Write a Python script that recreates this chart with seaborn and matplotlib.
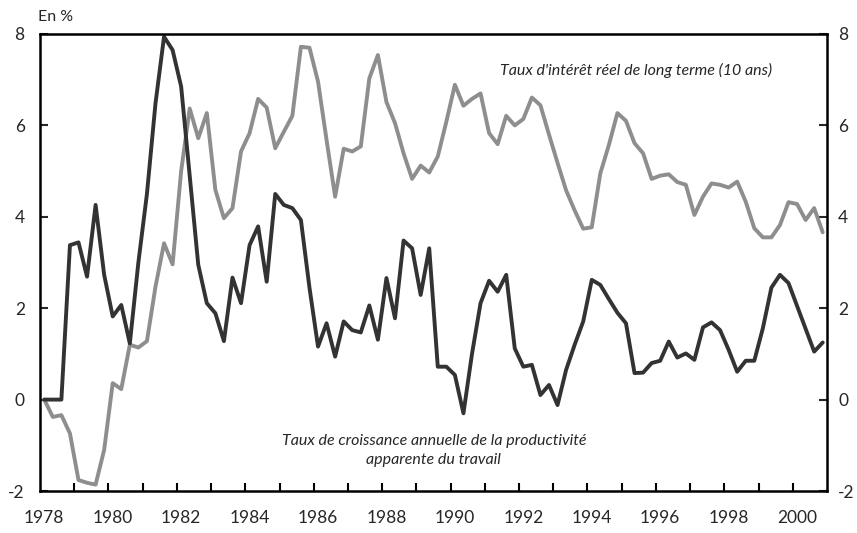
import numpy as np
import pandas as pd
import matplotlib
matplotlib.use("Agg")
import matplotlib.pyplot as plt
from matplotlib.transforms import ScaledTranslation
import seaborn as sns

# Quarterly data 1978Q1 - 2000Q4
quarters = pd.period_range("1978Q1", "2000Q4", freq="Q")

productivite = [
    0.0, 0.0, 0.0, 3.38, 3.44, 2.69, 4.26, 2.73, 1.82, 2.07,
    1.23, 3.0, 4.5, 6.48, 7.94, 7.65, 6.85, 4.9, 2.95, 2.11,
    1.89, 1.28, 2.67, 2.11, 3.38, 3.79, 2.58, 4.50, 4.26, 4.19,
    3.93, 2.45, 1.16, 1.67, 0.94, 1.71, 1.52, 1.47, 2.06, 1.31,
    2.66, 1.78, 3.48, 3.31, 2.29, 3.31, 0.72, 0.72, 0.54, -0.30,
    1.0, 2.11, 2.60, 2.36, 2.73, 1.12, 0.72, 0.76, 0.10, 0.32,
    -0.12, 0.65, 1.20, 1.71, 2.62, 2.51, 2.2, 1.9, 1.67, 0.58,
    0.59, 0.80, 0.85, 1.27, 0.92, 1.01, 0.87, 1.58, 1.69, 1.52,
    1.09, 0.61, 0.85, 0.85, 1.56, 2.45, 2.73, 2.55, 2.05, 1.55,
    1.05, 1.25,
]

taux_reel = [
    0.0, -0.38, -0.34, -0.74, -1.76, -1.82, -1.86, -1.10, 0.36, 0.23,
    1.20, 1.14, 1.28, 2.47, 3.42, 2.96, 5.0, 6.37, 5.72, 6.27,
    4.59, 3.97, 4.19, 5.43, 5.83, 6.58, 6.39, 5.50, 5.86, 6.21,
    7.72, 7.70, 6.96, 5.68, 4.44, 5.49, 5.43, 5.54, 7.03, 7.54,
    6.51, 6.05, 5.39, 4.83, 5.12, 4.97, 5.32, 6.08, 6.89, 6.43,
    6.58, 6.70, 5.83, 5.59, 6.21, 6.00, 6.14, 6.61, 6.44, 5.80,
    5.18, 4.58, 4.14, 3.74, 3.77, 4.95, 5.57, 6.27, 6.10, 5.61,
    5.39, 4.83, 4.90, 4.93, 4.76, 4.70, 4.04, 4.44, 4.73, 4.70,
    4.64, 4.77, 4.33, 3.75, 3.55, 3.55, 3.82, 4.32, 4.28, 3.93,
    4.19, 3.66,
]

year_labels = list(range(1978, 2001, 2))
y_ticks = [-2, 0, 2, 4, 6, 8]

label_taux = "Taux d'intérêt réel de long terme (10 ans)"
label_prod = "Taux de croissance annuelle de la productivité\napparente du travail"

# ---------------------------------------------------------------
sns.set_style("white")
plt.rcParams["font.family"] = ["Lato", "DejaVu Sans"]
plt.rcParams["axes.unicode_minus"] = False

t = np.array([q.year + (q.quarter - 1) * 0.25 + 0.125 for q in quarters])
df = pd.DataFrame({"t": np.concatenate([t, t]),
                   "val": productivite + taux_reel,
                   "serie": ["prod"] * len(t) + ["taux"] * len(t)})

fig = plt.figure(figsize=(8.57, 5.33), dpi=100)
ax = fig.add_axes([40 / 857, 1 - 491 / 533, 787 / 857, 457 / 533])

sns.lineplot(data=df, x="t", y="val", hue="serie",
             palette={"taux": "#8e8e8e", "prod": "#333333"},
             hue_order=["taux", "prod"], linewidth=2.8, legend=False, ax=ax)

ax.set_xlim(1978, 2001)
ax.set_ylim(-2, 8)
ax.set_xlabel("")
ax.set_ylabel("")

for s in ax.spines.values():
    s.set_visible(True)
    s.set_color("black")
    s.set_linewidth(1.8)

# x ticks: marks at year boundaries, labels every two years
ax.set_xticks(list(range(1979, 2001)))
ax.set_xticklabels([])
ax.tick_params(axis="x", which="major", direction="in", length=6, width=1.5,
               color="black", bottom=True)
ax.set_xticks([y + 0.125 for y in year_labels], minor=True)
ax.set_xticklabels([str(y) for y in year_labels], minor=True)
ax.tick_params(axis="x", which="minor", length=0, pad=14, labelsize=12.5)

# y ticks on both sides, labels on both sides
ax.set_yticks(y_ticks)
ax.set_yticklabels([str(v) for v in y_ticks])
ax.tick_params(axis="y", which="major", direction="in", length=6, width=1.5,
               left=True, right=True, labelleft=True, labelright=True,
               labelsize=12.5, pad=11)
# right-hand labels slightly closer to the spine so "-2" fits in the figure
shift = ScaledTranslation(-4 / 100, 0, fig.dpi_scale_trans)
for tick in ax.yaxis.get_major_ticks():
    tick.label2.set_transform(tick.label2.get_transform() + shift)

ax.text(-0.002, 1.022, "En %", transform=ax.transAxes, ha="left", va="bottom",
        fontsize=11.5)

ax.text(1999.39, 7.2, label_taux, ha="right", va="center",
        fontsize=11.5, style="italic")
ax.text(1989.51, -1.12, label_prod, ha="center", va="center",
        fontsize=11.5, style="italic", linespacing=1.45)

fig.savefig("out.png", dpi=100)
